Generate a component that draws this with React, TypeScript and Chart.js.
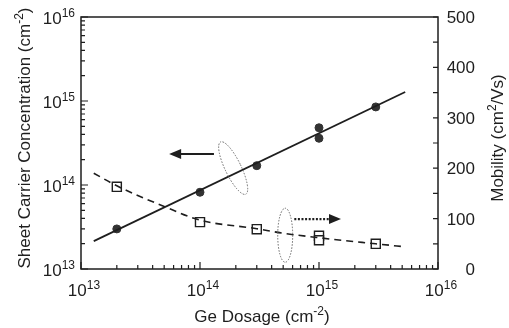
import React, { useEffect, useRef } from 'react';
import { Chart, registerables } from 'chart.js';
Chart.register(...registerables);

// Sheet carrier concentration (left log axis)
const dosage = [2e13, 1e14, 3e14, 1e15, 1e15, 3e15];
const sheetConc = [3.0e13, 8.2e13, 1.7e14, 3.6e14, 4.8e14, 8.5e14];
const fitDosage = [1.28e13, 5.3e15];
const fitConc = [2.15e13, 1.28e15];

// Mobility (right linear axis)
const mobDosage = [2e13, 1e14, 3e14, 1e15, 1e15, 3e15];
const mobility = [163, 93, 79, 66, 57, 50];
const mobFitDosage = [1.28e13, 2e13, 5e13, 1e14, 3e14, 5e14, 1e15, 3e15, 5.3e15];
const mobFit = [190, 165, 124, 97, 80, 71, 62, 50, 44];

// Ticks
const xTickExps = [13, 14, 15, 16];
const yTickExps = [13, 14, 15, 16];
const y2Ticks = [0, 100, 200, 300, 400, 500];
const y2MinorTicks = [50, 150, 250, 350, 450];

// Annotations (data units)
const concArrowX = [1.31e14, 5.5e13];
const concArrowY = [2.34e14];
const concEllipse = [1.9e14, 1.59e14];
const mobArrowX = [6.2e14, 1.53e15];
const mobArrowY = [99];
const mobEllipse = [5.2e14, 67];

const FONT = '"Liberation Sans", Arial, Helvetica, sans-serif';
const INK = '#1e1e1e';
const FS = 17;
const SUP = 12;
const RISE = 7;

type Part = [string, boolean];

function richWidth(ctx: CanvasRenderingContext2D, parts: Part[], size: number, sup: number) {
  let w = 0;
  for (const [t, s] of parts) {
    ctx.font = `${s ? sup : size}px ${FONT}`;
    w += ctx.measureText(t).width;
  }
  return w;
}

function drawRich(
  ctx: CanvasRenderingContext2D,
  parts: Part[],
  x: number,
  baseline: number,
  align: 'left' | 'right' | 'center',
  size: number,
  sup: number,
  rise: number
) {
  const w = richWidth(ctx, parts, size, sup);
  let cx = align === 'left' ? x : align === 'right' ? x - w : x - w / 2;
  ctx.textAlign = 'left';
  ctx.textBaseline = 'alphabetic';
  for (const [t, s] of parts) {
    ctx.font = `${s ? sup : size}px ${FONT}`;
    ctx.fillText(t, cx, s ? baseline - rise : baseline);
    cx += ctx.measureText(t).width;
  }
}

function arrowHead(ctx: CanvasRenderingContext2D, tipX: number, y: number, dir: number) {
  ctx.beginPath();
  ctx.moveTo(tipX, y);
  ctx.lineTo(tipX - dir * 12, y - 5);
  ctx.lineTo(tipX - dir * 12, y + 5);
  ctx.closePath();
  ctx.fill();
}

const decorPlugin = {
  id: 'decor',
  afterDraw(chart: any) {
    const ctx: CanvasRenderingContext2D = chart.ctx;
    const { left, right, top, bottom } = chart.chartArea;
    const xs = chart.scales.x;
    const ys = chart.scales.y;
    const y2 = chart.scales.y2;
    ctx.save();
    ctx.strokeStyle = INK;
    ctx.fillStyle = INK;
    ctx.lineWidth = 1.5;
    ctx.setLineDash([]);
    ctx.strokeRect(left, top, right - left, bottom - top);

    // ticks (inward)
    ctx.lineWidth = 1.2;
    ctx.beginPath();
    for (let e = 13; e <= 15; e++) {
      for (let k = 1; k <= 10; k++) {
        const v = k * Math.pow(10, e);
        const major = k === 1 || k === 10;
        const px = xs.getPixelForValue(v);
        ctx.moveTo(px, bottom);
        ctx.lineTo(px, bottom - (major ? 7 : 4));
        const py = ys.getPixelForValue(v);
        ctx.moveTo(left, py);
        ctx.lineTo(left + (major ? 7 : 4), py);
      }
    }
    for (const v of [...y2Ticks, ...y2MinorTicks]) {
      const py = y2.getPixelForValue(v);
      ctx.moveTo(right, py);
      ctx.lineTo(right - 5, py);
    }
    ctx.stroke();

    // tick labels
    for (const e of xTickExps) {
      const px = xs.getPixelForValue(Math.pow(10, e));
      drawRich(ctx, [['10', false], [String(e), true]], px + 3, 296, 'center', FS, SUP, RISE);
    }
    for (const e of yTickExps) {
      const py = ys.getPixelForValue(Math.pow(10, e));
      drawRich(ctx, [['10', false], [String(e), true]], 75, py + 7, 'right', FS, SUP, RISE);
    }
    for (const v of y2Ticks) {
      const py = y2.getPixelForValue(v);
      drawRich(ctx, [[String(v), false]], 475, py + 6, 'right', FS, SUP, RISE);
    }

    // axis titles
    drawRich(ctx, [['Ge Dosage (cm', false], ['-2', true], [')', false]], 262, 322, 'center', FS, SUP, RISE);
    ctx.save();
    ctx.translate(24, 138);
    ctx.rotate(-Math.PI / 2);
    drawRich(
      ctx,
      [['Sheet Carrier Concentration (cm', false], ['-2', true], [')', false]],
      0,
      6,
      'center',
      FS,
      SUP,
      RISE
    );
    ctx.restore();
    ctx.save();
    ctx.translate(497, 138);
    ctx.rotate(-Math.PI / 2);
    drawRich(ctx, [['Mobility (cm', false], ['2', true], ['/Vs)', false]], 0, 6, 'center', FS, SUP, RISE);
    ctx.restore();

    // annotations: concentration arrow (solid) + ellipse
    const ay = ys.getPixelForValue(concArrowY[0]);
    const ax0 = xs.getPixelForValue(concArrowX[0]);
    const ax1 = xs.getPixelForValue(concArrowX[1]);
    ctx.lineWidth = 2;
    ctx.beginPath();
    ctx.moveTo(ax0, ay);
    ctx.lineTo(ax1 + 8, ay);
    ctx.stroke();
    arrowHead(ctx, ax1, ay, -1);

    ctx.strokeStyle = '#666';
    ctx.lineWidth = 1;
    ctx.setLineDash([1.5, 1.5]);
    ctx.beginPath();
    ctx.ellipse(
      xs.getPixelForValue(concEllipse[0]),
      ys.getPixelForValue(concEllipse[1]),
      8,
      29,
      -0.45,
      0,
      Math.PI * 2
    );
    ctx.stroke();
    ctx.beginPath();
    ctx.ellipse(
      xs.getPixelForValue(mobEllipse[0]),
      y2.getPixelForValue(mobEllipse[1]),
      7.5,
      27,
      0,
      0,
      Math.PI * 2
    );
    ctx.stroke();

    // mobility arrow (dotted)
    const by = y2.getPixelForValue(mobArrowY[0]);
    const bx0 = xs.getPixelForValue(mobArrowX[0]);
    const bx1 = xs.getPixelForValue(mobArrowX[1]);
    ctx.strokeStyle = INK;
    ctx.lineWidth = 2.2;
    ctx.setLineDash([2, 1.6]);
    ctx.beginPath();
    ctx.moveTo(bx0, by);
    ctx.lineTo(bx1 - 10, by);
    ctx.stroke();
    ctx.setLineDash([]);
    arrowHead(ctx, bx1, by, 1);

    ctx.restore();
  },
};

export default function App() {
  const ref = useRef<HTMLCanvasElement>(null);
  useEffect(() => {
    if (!ref.current) return;
    const pts = (xs: number[], ys: number[]) => xs.map((x, i) => ({ x, y: ys[i] }));
    const chart = new Chart(ref.current, {
      type: 'scatter',
      data: {
        datasets: [
          {
            label: 'Concentration fit',
            data: pts(fitDosage, fitConc),
            yAxisID: 'y',
            showLine: true,
            borderColor: INK,
            borderWidth: 1.8,
            pointRadius: 0,
          },
          {
            label: 'Mobility fit',
            data: pts(mobFitDosage, mobFit),
            yAxisID: 'y2',
            showLine: true,
            borderColor: INK,
            borderWidth: 1.6,
            borderDash: [7, 5],
            cubicInterpolationMode: 'monotone',
            pointRadius: 0,
          },
          {
            label: 'Sheet carrier concentration',
            data: pts(dosage, sheetConc),
            yAxisID: 'y',
            pointStyle: 'circle',
            pointRadius: 4,
            backgroundColor: '#333',
            borderColor: '#333',
            borderWidth: 1,
          },
          {
            label: 'Mobility',
            data: pts(mobDosage, mobility),
            yAxisID: 'y2',
            pointStyle: 'rect',
            pointRadius: 6.4,
            backgroundColor: '#fff',
            borderColor: INK,
            borderWidth: 1.4,
          },
        ],
      },
      options: {
        animation: false,
        responsive: true,
        maintainAspectRatio: false,
        layout: { padding: { top: 17, left: 0, right: 0, bottom: 0 } },
        plugins: { legend: { display: false }, tooltip: { enabled: false } },
        scales: {
          x: {
            type: 'logarithmic',
            min: 1e13,
            max: 1e16,
            ticks: { display: false },
            grid: { display: false },
            border: { display: false },
            afterFit: (s: any) => {
              s.height = 59;
            },
          },
          y: {
            type: 'logarithmic',
            position: 'left',
            min: 1e13,
            max: 1e16,
            ticks: { display: false },
            grid: { display: false },
            border: { display: false },
            afterFit: (s: any) => {
              s.width = 81;
            },
          },
          y2: {
            type: 'linear',
            position: 'right',
            min: 0,
            max: 500,
            ticks: { display: false },
            grid: { display: false },
            border: { display: false },
            afterFit: (s: any) => {
              s.width = 71;
            },
          },
        },
      } as any,
      plugins: [decorPlugin],
    });
    return () => chart.destroy();
  }, []);
  return (
    <div style={{ position: 'absolute', left: 0, top: 0, width: 509, height: 328, background: '#fff' }}>
      <canvas ref={ref} />
    </div>
  );
}
